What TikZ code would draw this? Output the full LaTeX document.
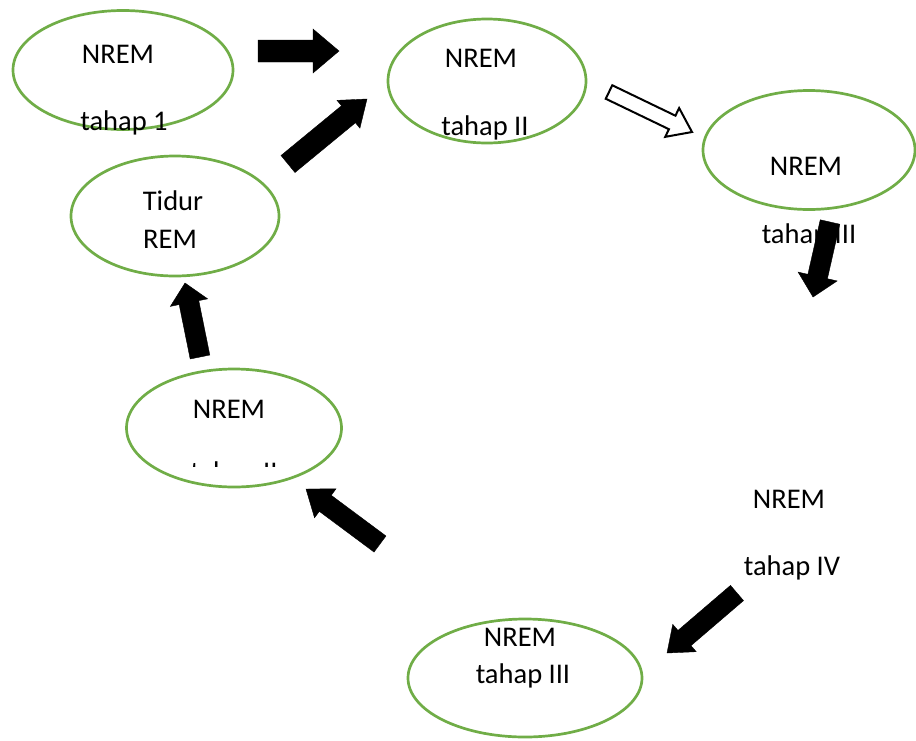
\documentclass[tikz,border=0pt]{standalone}
\usepackage{fontspec}
\setmainfont{Carlito}
\usetikzlibrary{calc,positioning,shapes.geometric}
\definecolor{stagegreen}{RGB}{112,173,71}

\begin{document}
\begin{tikzpicture}[
    x=1pt, y=-1pt,
    stage/.style 2 args={ellipse, draw=stagegreen, line width=2.7pt, minimum width=#1, minimum height=#2, inner sep=0},
    txt/.style={anchor=base, inner sep=0, font=\fontsize{28.5}{34}\selectfont},
    blockarrow/.style n args={3}{to path={
        ($(\tikztostart)!#1!90:(\tikztotarget)$)
        -- ($(\tikztotarget)!#3!(\tikztostart)!#1!-90:(\tikztostart)$)
        -- ($(\tikztotarget)!#3!(\tikztostart)!#2!-90:(\tikztostart)$)
        -- (\tikztotarget)
        -- ($(\tikztotarget)!#3!(\tikztostart)!#2!90:(\tikztostart)$)
        -- ($(\tikztotarget)!#3!(\tikztostart)!#1!90:(\tikztostart)$)
        -- ($(\tikztostart)!#1!-90:(\tikztotarget)$)
        -- cycle}},
    solid/.style={draw=black, fill=black, line join=miter},
    hollow/.style={draw=black, fill=white, line width=2pt, line join=miter}]
\useasboundingbox (0,0) rectangle (916,740);

% ellipses
\node[stage={220pt}{119pt}] (nremI)     at (123,70)  {};
\node[stage={198pt}{124pt}] (nremII)    at (487,81)  {};
\node[stage={212pt}{119pt}] (nremIII)   at (809,150) {};
\node[stage={208pt}{120pt}] (rem)       at (175,216) {};
\node[stage={215pt}{118pt}] (nremIIb)   at (234,428) {};
\node[stage={234pt}{118pt}] (nremIIIb)  at (525,678) {};

% texts
\node[txt] (nremIa)    at (118,63)  {NREM};
\node[txt] (nremIb)    at (124,130) {tahap 1};
\node[txt] (nremIIa)   at (481,67)  {NREM};
\node[txt] (nremIIb)   at (485,135) {tahap II};
\node[txt] (nremIIIa)  at (806,175) {NREM};
\node[txt] (nremIIIb)  at (809,243) {tahap III};
\node[txt] (rema)      at (173,210) {Tidur};
\node[txt] (remb)      at (170,248) {REM};
\node[txt] (nremIIba)  at (229,418) {NREM};
\begin{scope}
\clip (120,360) rectangle (350,466);
\node[txt] (nremIIbb)  at (234,481) {tahap II};
\end{scope}
\node[txt] (nremIIIba) at (520,646) {NREM};
\node[txt] (nremIIIbb) at (523,683) {tahap III};
\node[txt] (nremIVa)   at (789,508) {NREM};
\node[txt] (nremIVb)   at (792,575) {tahap IV};

% arrow ends
\coordinate (a1s) at (258,51);  \coordinate (a1e) at (339,51);
\coordinate (a2s) at (288,164); \coordinate (a2e) at (367,99);
\coordinate (a3s) at (609,92);  \coordinate (a3e) at (692,132);
\coordinate (a4s) at (830,222); \coordinate (a4e) at (813,297);
\coordinate (a5s) at (737,593); \coordinate (a5e) at (667,653);
\coordinate (a6s) at (380,544); \coordinate (a6e) at (306,489);
\coordinate (a7s) at (200,357); \coordinate (a7e) at (185,283);

\draw[solid]  (a1s) to[blockarrow={11pt}{22pt}{26pt}] (a1e);
\draw[solid]  (a2s) to[blockarrow={11pt}{18pt}{24pt}] (a2e);
\draw[hollow] (a3s) to[blockarrow={7.5pt}{16pt}{22pt}] (a3e);
\draw[solid]  (a4s) to[blockarrow={10pt}{20pt}{21pt}] (a4e);
\draw[solid]  (a5s) to[blockarrow={10pt}{18pt}{23pt}] (a5e);
\draw[solid]  (a6s) to[blockarrow={10pt}{18pt}{24pt}] (a6e);
\draw[solid]  (a7s) to[blockarrow={10pt}{19pt}{20pt}] (a7e);

\end{tikzpicture}
\end{document}
